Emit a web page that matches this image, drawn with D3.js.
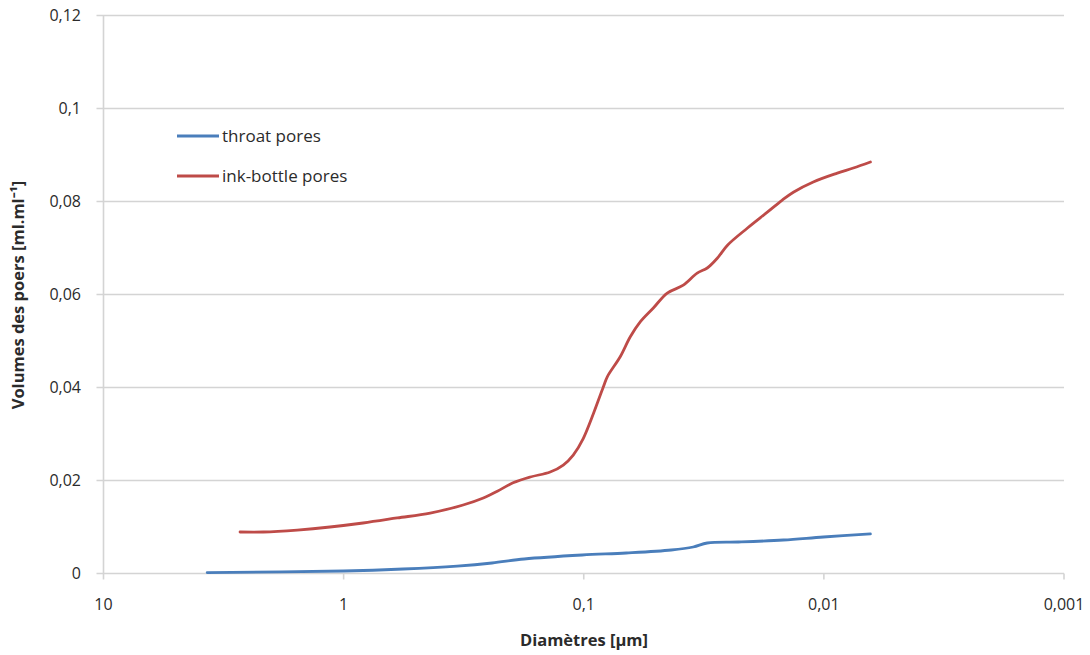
<!DOCTYPE html>
<html>
<head>
<meta charset="utf-8">
<script src="https://cdn.jsdelivr.net/npm/d3@7/dist/d3.min.js"></script>
<style>
  html, body { margin: 0; padding: 0; background: #fff; }
  svg { display: block; }
  text { font-family: "Open Sans", "Liberation Sans", sans-serif; fill: #2b2b2b; }
</style>
</head>
<body>
<svg id="chart" width="1090" height="655"></svg>
<script>
// Pore diameters (µm) and cumulative volumes (ml/ml)
const throatDiam = [3.70, 1.0, 0.565, 0.337, 0.241, 0.177, 0.1015, 0.0665, 0.0432, 0.0350, 0.0306, 0.0227, 0.01475, 0.01004, 0.0064];
const throatVol  = [0.0002, 0.00054, 0.00097, 0.0016, 0.00226, 0.00312, 0.00398, 0.00441, 0.00505, 0.0057, 0.00656, 0.00677, 0.0072, 0.00785, 0.0085];

const inkDiam = [2.70, 2.16, 1.56, 1.14, 0.830, 0.598, 0.436, 0.318, 0.262, 0.229, 0.197, 0.167, 0.138, 0.1217, 0.1106, 0.1005, 0.0829, 0.0798, 0.0705, 0.0640, 0.0582, 0.0513, 0.0449, 0.0385, 0.0337, 0.0306, 0.0278, 0.0252, 0.0208, 0.0172, 0.0149, 0.0134, 0.01107, 0.00879, 0.00754, 0.0064];
const inkVol  = [0.00892, 0.00892, 0.00935, 0.0100, 0.01086, 0.01194, 0.0130, 0.01473, 0.01624, 0.01770, 0.01950, 0.02075, 0.02183, 0.02333, 0.02548, 0.0290, 0.0401, 0.0423, 0.0466, 0.0509, 0.0541, 0.0571, 0.0603, 0.0620, 0.0646, 0.0657, 0.0678, 0.0706, 0.0743, 0.0777, 0.0803, 0.0820, 0.0842, 0.0861, 0.0872, 0.0885];

const seriesNames = ["throat pores", "ink-bottle pores"];
const seriesColors = ["#4a7ebb", "#be4b48"];

const xTicks = [10, 1, 0.1, 0.01, 0.001];
const yTicks = [0, 0.02, 0.04, 0.06, 0.08, 0.1, 0.12];

const xTitle = "Diamètres [µm]";
const yTitle = "Volumes des poers [ml.ml⁻¹]";

const svg = d3.select("#chart");
const plotLeft = 103.5, plotRight = 1064, plotTop = 15.5, plotBottom = 573.5;

const x = d3.scaleLog().domain([10, 0.001]).range([plotLeft, plotRight]);
const y = d3.scaleLinear().domain([0, 0.12]).range([plotBottom, plotTop]);

const fmt = v => String(+v.toFixed(3)).replace(".", ",");

// horizontal gridlines with short outer ticks
const gridColor = "#d4d4d4";
svg.append("g").selectAll("line").data(yTicks).join("line")
  .attr("x1", plotLeft - 7).attr("x2", plotRight)
  .attr("y1", d => y(d)).attr("y2", d => y(d))
  .attr("stroke", gridColor).attr("stroke-width", 1.6);

// vertical axis line
svg.append("line")
  .attr("x1", plotLeft).attr("x2", plotLeft).attr("y1", plotTop).attr("y2", plotBottom)
  .attr("stroke", gridColor).attr("stroke-width", 1.6);

// x ticks
svg.append("g").selectAll("line").data(xTicks).join("line")
  .attr("x1", d => x(d)).attr("x2", d => x(d))
  .attr("y1", plotBottom).attr("y2", plotBottom + 6)
  .attr("stroke", gridColor).attr("stroke-width", 1.6);

// y tick labels
svg.append("g").selectAll("text").data(yTicks).join("text")
  .attr("x", 81).attr("y", d => y(d))
  .attr("dy", "0.35em")
  .attr("text-anchor", "end")
  .style("font-size", "16px")
  .text(fmt);

// x tick labels
svg.append("g").selectAll("text").data(xTicks).join("text")
  .attr("x", d => x(d))
  .attr("y", 604)
  .attr("dy", "0.35em")
  .attr("text-anchor", "middle")
  .style("font-size", "16px")
  .text(fmt);

// axis titles
svg.append("text")
  .attr("x", 584).attr("y", 640)
  .attr("dy", "0.35em")
  .attr("text-anchor", "middle")
  .style("font-size", "16.5px").style("font-weight", "bold")
  .text(xTitle);

svg.append("text")
  .attr("transform", "translate(18,295) rotate(-90)")
  .attr("dy", "0.35em")
  .attr("text-anchor", "middle")
  .style("font-size", "16.5px").style("font-weight", "bold")
  .text(yTitle);

// series lines
const line = d3.line()
  .x(d => x(d[0]))
  .y(d => y(d[1]))
  .curve(d3.curveCatmullRom.alpha(0.5));

const series = [
  d3.zip(throatDiam, throatVol),
  d3.zip(inkDiam, inkVol)
];

svg.append("g").selectAll("path").data(series).join("path")
  .attr("d", line)
  .attr("fill", "none")
  .attr("stroke", (d, i) => seriesColors[i])
  .attr("stroke-width", 2.8)
  .attr("stroke-linejoin", "round")
  .attr("stroke-linecap", "round");

// legend
const legend = svg.append("g").selectAll("g").data(seriesNames).join("g")
  .attr("transform", (d, i) => `translate(177,${136 + i * 40})`);
legend.append("line")
  .attr("x1", 0).attr("x2", 42)
  .attr("stroke", (d, i) => seriesColors[i])
  .attr("stroke-width", 2.8);
legend.append("text")
  .attr("x", 45).attr("dy", "0.35em")
  .style("font-size", "17px")
  .text(d => d);
</script>
</body>
</html>
